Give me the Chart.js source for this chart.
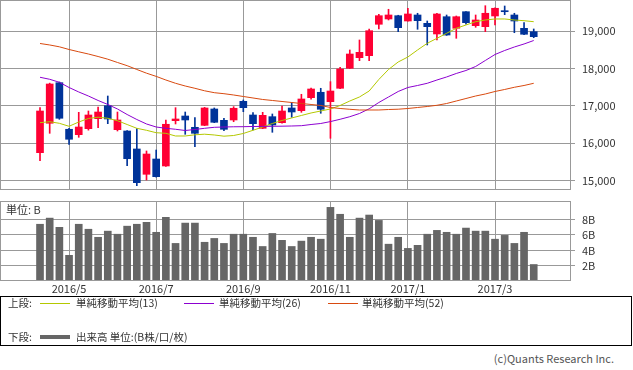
<!DOCTYPE html>
<html>
<head>
<meta charset="utf-8">
<script src="https://cdn.jsdelivr.net/npm/chart.js@4.4.0/dist/chart.umd.min.js"></script>
<style>
body { margin: 0; background: #fff; width: 633px; height: 370px; overflow: hidden; position: relative;
       font-family: "Noto Sans CJK JP", sans-serif; font-size: 10.5px; color: #333; }
canvas { position: absolute; left: 0; }
#price { top: 0; }
#vol { top: 190px; }
.t { position: absolute; white-space: nowrap; line-height: 14px; }
.ln { position: absolute; width: 30px; height: 1px; }
</style>
</head>
<body>
<canvas id="price" width="633" height="192"></canvas>
<canvas id="vol" width="633" height="110"></canvas>
<div class="t" style="left:6px;top:202px;font-size:11px">単位: B</div>

<div style="position:absolute;left:0;top:296px;width:630px;height:48px;border:1px solid #000"></div>
<div class="t" style="left:8px;top:296px">上段:</div>
<div class="ln" style="left:40px;top:303px;background:#b4c800"></div>
<div class="t" style="left:76px;top:296px">単純移動平均(13)</div>
<div class="ln" style="left:184px;top:303px;background:#8c00d0"></div>
<div class="t" style="left:219px;top:296px">単純移動平均(26)</div>
<div class="ln" style="left:328px;top:303px;background:#d84a10"></div>
<div class="t" style="left:362px;top:296px">単純移動平均(52)</div>
<div class="t" style="left:8px;top:330px">下段:</div>
<div class="ln" style="left:40px;top:335px;height:4px;background:#666"></div>
<div class="t" style="left:76px;top:330px">出来高 単位:(B株/口/枚)</div>
<div class="t" style="right:19px;top:351px;font-size:11px;color:#555">(c)Quants Research Inc.</div>

<script>
// 週足 2016/4 - 2017/3
const monthIdx = [3, 12, 21, 30, 38, 47];
const monthLabels = ['2016/5', '2016/7', '2016/9', '2016/11', '2017/1', '2017/3'];
const priceTicks = [15000, 16000, 17000, 18000, 19000];
const volTicks = [2, 4, 6, 8];

const open  = [15745,16534,17622,16373,16228,16389,16657,17005,16362,16327,15845,15166,15576,15389,16603,16729,16426,16478,16917,16613,16622,17123,16756,16399,16711,16550,
               16944,16871,17220,17365,17113,17472,18008,18292,18346,19188,19330,19418,19276,19437,19214,18928,19391,19080,19525,19150,19123,19410,19552,19437,19080,18989];
const high  = [16952,17610,17640,16400,16828,16863,16971,17265,16836,16340,16391,15791,15817,16622,16952,16836,16684,16960,16944,16667,16979,17158,16818,16828,16783,16997,
               17087,17311,17480,17472,17649,18035,18499,18767,19062,19456,19590,19430,19617,19483,19276,19483,19437,19410,19530,19437,19686,19630,19678,19483,19231,19062];
const low   = [15531,16265,16640,15970,16158,16350,16416,16523,16327,15397,14861,15013,15090,15380,16515,16238,15906,16470,16550,16335,16576,16845,16354,16390,16292,16540,
               16694,16828,17177,16802,16131,17460,18000,18212,18212,19062,19303,18989,19270,19054,18633,18767,18890,18812,19188,19107,18989,19168,19445,18962,18910,18828];
const close = [16863,17587,16668,16105,16434,16756,16836,16649,16622,15584,14941,15710,15102,16507,16649,16622,16265,16944,16560,16372,16936,16952,16523,16747,16488,16863,
               16836,17185,17453,16909,17399,17989,18391,18436,19016,19418,19437,19097,19464,19284,19123,19464,18900,19391,19231,19303,19483,19617,19525,19276,18920,18855];

const ma13 = [16550,16576,16533,16453,16568,16662,16697,16668,16603,16501,16399,16346,16281,16265,16193,16193,16225,16241,16220,16188,16206,16260,16346,16434,16528,16609,
              16676,16743,16810,16863,16917,17011,17131,17239,17399,17708,17976,18177,18311,18499,18678,18812,18946,19080,19169,19257,19303,19330,19330,19303,19284,19257];
const ma26 = [17767,17713,17633,17493,17373,17265,17145,17038,16917,16769,16635,16515,16434,16399,16373,16340,16367,16399,16426,16434,16440,16442,16448,16450,16453,16456,
              16461,16469,16501,16528,16579,16641,16710,16796,16922,17091,17239,17386,17493,17547,17606,17694,17775,17869,17949,18056,18217,18378,18485,18579,18660,18753];
const ma52 = [18673,18633,18584,18512,18450,18391,18324,18252,18164,18078,17976,17877,17791,17694,17606,17533,17472,17405,17354,17327,17292,17252,17212,17172,17145,17118,
              17091,17064,17038,17011,16957,16930,16909,16890,16890,16890,16903,16911,16930,16957,16984,17016,17064,17131,17198,17265,17319,17386,17440,17499,17547,17606];

// 出来高 (B)
const volume = [7.4,8.2,7.0,3.35,7.4,6.75,5.7,6.5,6.1,7.15,7.4,7.65,6.35,8.3,4.9,7.55,7.55,5.05,5.55,4.9,6.1,6.1,5.7,4.5,6.2,5.3,
                4.5,5.2,5.7,5.45,9.6,8.7,5.7,8.2,8.6,7.9,4.8,5.7,4.25,4.65,6.1,6.6,6.35,6.1,6.9,6.5,6.5,5.45,5.95,4.9,6.35,2.15];

const UP = '#ff0033', DOWN = '#003399';
const GRID = '#999';
const idx = close.map((c, i) => i);
const candleColor = close.map((c, i) => c >= open[i] ? UP : DOWN);

Chart.defaults.font.family = '"Noto Sans CJK JP", sans-serif';
Chart.defaults.font.size = 11;
Chart.defaults.color = '#333';

const frame = {
    id: 'frame',
    afterDraw(chart) {
        const { ctx, chartArea: a } = chart;
        ctx.save();
        ctx.strokeStyle = GRID;
        ctx.lineWidth = 1;
        ctx.strokeRect(a.left - 0.5, a.top - 0.5, a.right - a.left, a.bottom - a.top);
        ctx.restore();
    }
};

const monthTicks = s => { s.ticks = monthIdx.map(v => ({ value: v })); };
const noPad = s => { s.paddingLeft = 0; s.paddingRight = 0; s.paddingTop = 0; s.paddingBottom = 0; };

function xAxis(height, showLabels) {
    return {
        type: 'linear',
        min: -4.03,
        max: 54.85,
        offset: false,
        afterBuildTicks: monthTicks,
        afterFit: s => { s.height = height; noPad(s); },
        grid: { color: GRID, drawTicks: false, offset: false },
        border: { display: false },
        ticks: { display: showLabels, padding: 1, maxRotation: 0, autoSkip: false,
                 callback: v => monthLabels[monthIdx.indexOf(v)] }
    };
}

function yAxis(min, max, ticks, fmt) {
    return {
        position: 'right',
        min: min,
        max: max,
        afterBuildTicks: s => { s.ticks = ticks.map(v => ({ value: v })); },
        afterFit: s => { s.width = 62; noPad(s); },
        grid: { color: GRID, tickLength: 4 },
        border: { display: false },
        ticks: { padding: 7, callback: fmt }
    };
}

function maLine(values, color) {
    return {
        type: 'line',
        data: idx.map(i => ({ x: i, y: values[i] })),
        borderColor: color,
        borderWidth: 1,
        pointRadius: 0,
        tension: 0,
        order: 1
    };
}

// 上段: ローソク足 + 移動平均
new Chart(document.getElementById('price'), {
    type: 'bar',
    data: {
        datasets: [
            maLine(ma52, '#d84a10'),
            maLine(ma26, '#8c00d0'),
            maLine(ma13, '#b4c800'),
            {
                data: idx.map(i => ({ x: i, y: [open[i], close[i]] })),
                backgroundColor: candleColor,
                barThickness: 7,
                minBarLength: 1,
                grouped: false,
                order: 2
            },
            {
                data: idx.map(i => ({ x: i, y: [low[i], high[i]] })),
                backgroundColor: candleColor,
                barThickness: 1,
                grouped: false,
                order: 3
            }
        ]
    },
    options: {
        responsive: false,
        animation: false,
        events: [],
        layout: { padding: { left: 1, top: 1, right: 0, bottom: 2 } },
        plugins: { legend: { display: false }, tooltip: { enabled: false } },
        scales: {
            x: xAxis(0, false),
            y: yAxis(14745, 19812, priceTicks, v => v.toLocaleString('en-US'))
        }
    },
    plugins: [frame]
});

// 下段: 出来高
new Chart(document.getElementById('vol'), {
    type: 'bar',
    data: {
        datasets: [{
            data: idx.map(i => ({ x: i, y: volume[i] })),
            backgroundColor: '#666',
            barThickness: 7
        }]
    },
    options: {
        responsive: false,
        animation: false,
        events: [],
        layout: { padding: { left: 1, top: 12, right: 0, bottom: 0 } },
        plugins: { legend: { display: false }, tooltip: { enabled: false } },
        scales: {
            x: xAxis(19, true),
            y: yAxis(0, 10.3, volTicks, v => v + 'B')
        }
    },
    plugins: [frame]
});
</script>
</body>
</html>
